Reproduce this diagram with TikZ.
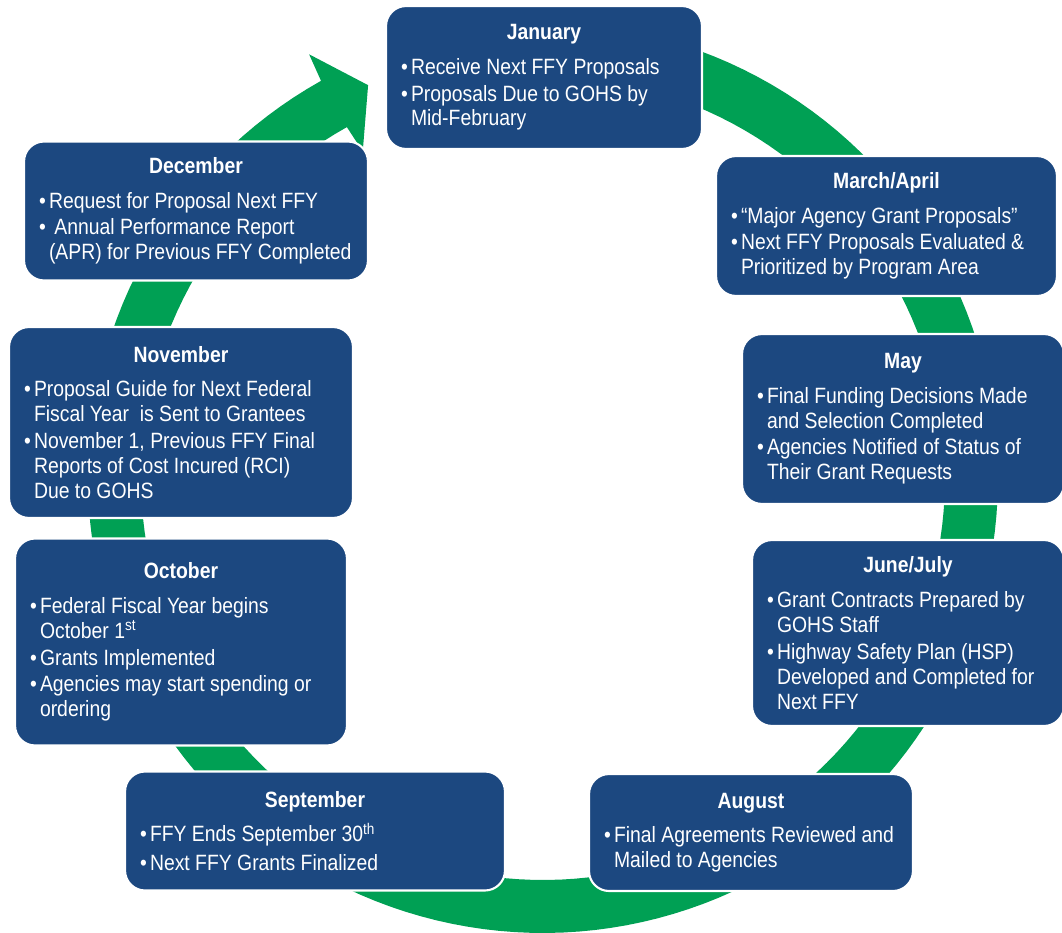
\documentclass[tikz,border=0pt]{standalone}
\usepackage{fontspec}
\setmainfont[FakeStretch=0.875]{Liberation Sans}
\usepackage{xcolor}
\usepackage{tikz}
\usetikzlibrary{calc}
\definecolor{gohsblue}{RGB}{28,72,128}
\definecolor{ringgreen}{RGB}{0,160,84}

% title line and bullet helpers
\newcommand{\mtitle}[2]{\makebox[#1][c]{\bfseries #2}}
\newcommand{\bul}{\makebox[0.2cm][l]{\textbullet}}
\newcommand{\indline}{\hspace*{0.2cm}}

\begin{document}
\begin{tikzpicture}[
    x=0.02cm, y=-0.02cm,
    monthbox/.style={draw=white, line width=1.2pt, fill=gohsblue, rounded corners=0.4cm,
        text=white, align=left, inner sep=0pt, font=\fontsize{12.6}{14.2}\selectfont},
]
    \useasboundingbox (0,0) rectangle (1062,933);

    % Green cycle ring with arrowhead into January
    \coordinate (hub) at (543,478);
    \fill[ringgreen, shift={(hub)}]
        plot[domain=-80:240.8, samples=160] (\x:455)
        -- (241.1:484) -- (246:430) -- (241.1:373) -- (240.8:402)
        -- plot[domain=240.8:-80, samples=160] (\x:402) -- cycle;

    % Month boxes, clockwise from the top
    \node[monthbox, minimum width=6.32cm, minimum height=2.86cm] (jan) at (544,77.5)
        {\mtitle{5.72cm}{January}\\[5.5pt]
         \bul Receive Next FFY Proposals\\[1pt]
         \bul Proposals Due to GOHS by\\
         \indline Mid-February};
    \node[monthbox, minimum width=6.82cm, minimum height=2.80cm] (marapr) at (886.5,226)
        {\mtitle{6.22cm}{March/April}\\[5.5pt]
         \bul “Major Agency Grant Proposals”\\[1pt]
         \bul Next FFY Proposals Evaluated \&\\
         \indline Prioritized by Program Area};
    \node[monthbox, minimum width=6.44cm, minimum height=3.40cm] (may) at (903,419)
        {\mtitle{5.84cm}{May}\\[5.5pt]
         \bul Final Funding Decisions Made\\
         \indline and Selection Completed\\[1pt]
         \bul Agencies Notified of Status of\\
         \indline Their Grant Requests};
    \node[monthbox, minimum width=6.24cm, minimum height=3.72cm] (junjul) at (908,633)
        {\mtitle{5.64cm}{June/July}\\[5.5pt]
         \bul Grant Contracts Prepared by\\
         \indline GOHS Staff\\[1pt]
         \bul Highway Safety Plan (HSP)\\
         \indline Developed and Completed for\\
         \indline Next FFY};
    \node[monthbox, minimum width=6.48cm, minimum height=2.34cm] (aug) at (751,832.5)
        {\mtitle{5.88cm}{August}\\[5.5pt]
         \bul Final Agreements Reviewed and\\
         \indline Mailed to Agencies};
    \node[monthbox, minimum width=7.60cm, minimum height=2.38cm] (sep) at (315,831)
        {\mtitle{7.00cm}{September}\\[5.5pt]
         \bul FFY Ends September 30\textsuperscript{th}\\[2pt]
         \bul Next FFY Grants Finalized};
    \node[monthbox, minimum width=6.64cm, minimum height=4.14cm] (oct) at (181,642)
        {\mtitle{6.04cm}{October}\\[5.5pt]
         \bul Federal Fiscal Year begins\\
         \indline October 1\textsuperscript{st}\\[1pt]
         \bul Grants Implemented\\[1pt]
         \bul Agencies may start spending or\\
         \indline ordering};
    \node[monthbox, minimum width=6.88cm, minimum height=3.82cm] (nov) at (181,422.5)
        {\mtitle{6.28cm}{November}\\[5.5pt]
         \bul Proposal Guide for Next Federal\\
         \indline Fiscal Year\ \ is Sent to Grantees\\[1pt]
         \bul November 1, Previous FFY Final\\
         \indline Reports of Cost Incured (RCI)\\
         \indline Due to GOHS};
    \node[monthbox, minimum width=6.88cm, minimum height=2.78cm] (dec) at (196,211)
        {\mtitle{6.28cm}{December}\\[5.5pt]
         \bul Request for Proposal Next FFY\\[1pt]
         \bul\ Annual Performance Report\\
         \indline (APR) for Previous FFY Completed};
\end{tikzpicture}
\end{document}
